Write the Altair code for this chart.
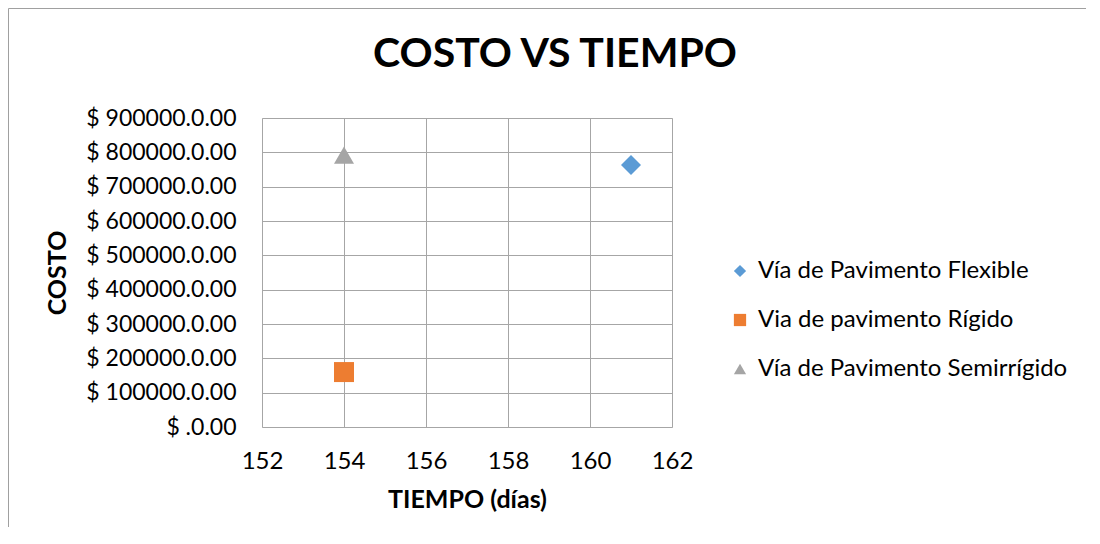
import altair as alt
import pandas as pd

series = ["Vía de Pavimento Flexible", "Via de pavimento Rígido", "Vía de Pavimento Semirrígido"]
tiempo = [161, 154, 154]
costo = [763000, 160000, 792000]
colors = ["#5B9BD5", "#ED7D31", "#A5A5A5"]
shapes = ["diamond", "square", "triangle-up"]
title_text = ["COSTO VS TIEMPO"]

df = pd.DataFrame({"serie": series, "tiempo": tiempo, "costo": costo})
tdf = pd.DataFrame({"t": title_text})

FONT = "Lato"

points = alt.Chart(df).mark_point(filled=True, size=400, opacity=1).encode(
    x=alt.X("tiempo:Q", scale=alt.Scale(domain=[152, 162], nice=False, zero=False),
            axis=alt.Axis(values=[152, 154, 156, 158, 160, 162], title="TIEMPO (días)",
                          ticks=False, domain=False, labelPadding=22, labelFontSize=24,
                          titleFontSize=25, titleFontWeight="bold", titlePadding=14,
                          labelFont=FONT, titleFont=FONT, labelColor="#000", titleColor="#000",
                          gridColor="#A6A6A6", labelFlush=False)),
    y=alt.Y("costo:Q", scale=alt.Scale(domain=[0, 900000], nice=False),
            axis=alt.Axis(values=[0, 100000, 200000, 300000, 400000, 500000, 600000, 700000, 800000, 900000],
                          labelExpr="'$ ' + (datum.value == 0 ? '' : datum.value) + '.0.00'",
                          title="COSTO", ticks=False, domain=False, labelPadding=26,
                          labelFontSize=23, titleFontSize=25, titleFontWeight="bold",
                          titlePadding=15, labelFont=FONT, titleFont=FONT,
                          labelColor="#000", titleColor="#000", gridColor="#A6A6A6")),
    color=alt.Color("serie:N", scale=alt.Scale(domain=series, range=colors),
                    legend=alt.Legend(title=None, orient="none", legendX=466, legendY=141,
                                      labelFontSize=24, labelFont=FONT, labelColor="#000",
                                      symbolSize=150, rowPadding=25, padding=0, labelOffset=6,
                                      labelLimit=500)),
    shape=alt.Shape("serie:N", scale=alt.Scale(domain=series, range=shapes), legend=None),
)

top_line = alt.Chart(tdf).mark_rule(stroke="#A0A0A0", strokeWidth=1).encode(
    x=alt.value(-253.5), x2=alt.value(840), y=alt.value(-109.5)
)
left_line = alt.Chart(tdf).mark_rule(stroke="#A0A0A0", strokeWidth=1).encode(
    x=alt.value(-253.5), y=alt.value(-109.5), y2=alt.value(440)
)

title = alt.Chart(tdf).mark_text(font=FONT, fontSize=41, fontWeight="bold", color="#000",
                                 align="center", baseline="middle").encode(
    text="t:N", x=alt.value(293), y=alt.value(-63)
)

chart = alt.layer(top_line, left_line, points, title).properties(
    width=410, height=309,
    padding={"left": 254, "top": 110, "right": 414, "bottom": 100},
    autosize=alt.AutoSizeParams(type="none"),
).configure_view(stroke="#A6A6A6").configure(background="white")

chart.save("out.html", embed_options={"renderer": "svg", "actions": False})
